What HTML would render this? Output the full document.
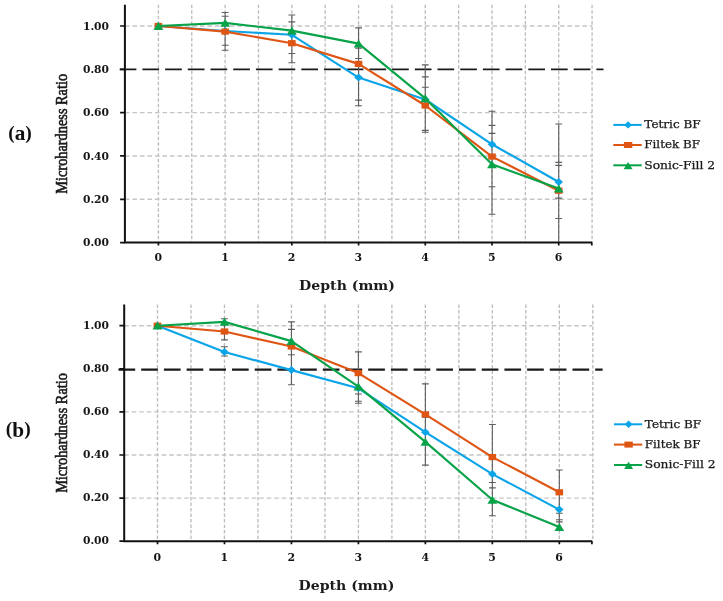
<!DOCTYPE html>
<html lang="en"><head><meta charset="utf-8"><title>Microhardness ratio vs depth</title>
<style>
html,body{margin:0;padding:0;background:#fff;}
body{width:723px;height:601px;overflow:hidden;}
svg{display:block;will-change:transform;}
.tk{font-family:"DejaVu Serif","Liberation Serif",serif;font-weight:bold;font-size:10.8px;fill:#151515;}
.ty{font-size:10.2px;}
.ti{font-family:"DejaVu Serif","Liberation Serif",serif;font-weight:bold;font-size:12.3px;fill:#1c1c1c;}
.lg{font-family:"DejaVu Serif","Liberation Serif",serif;font-size:10.2px;fill:#1a1a1a;stroke:#1a1a1a;stroke-width:0.25px;}
.yl{font-family:"Liberation Serif",serif;font-size:16.2px;fill:#1a1a1a;stroke:#1a1a1a;stroke-width:0.6px;}
.pl{font-family:"Liberation Serif",serif;font-weight:bold;font-size:19.5px;fill:#111;}
</style></head><body>
<svg width="723" height="601" viewBox="0 0 723 601">
<rect width="723" height="601" fill="#fff"/>
<g id="chart-a">
<path d="M158.4 4.8V242.6M191.76 4.8V242.6M225.12 4.8V242.6M258.48 4.8V242.6M291.84 4.8V242.6M325.2 4.8V242.6M358.56 4.8V242.6M391.92 4.8V242.6M425.28 4.8V242.6M458.64 4.8V242.6M492 4.8V242.6M525.36 4.8V242.6M558.72 4.8V242.6M592.08 4.8V242.6" stroke="#bdbdbd" stroke-width="1.35" stroke-dasharray="3.5 2" fill="none"/>
<path d="M124.9 199.28H592.2M124.9 155.96H592.2M124.9 112.64H592.2M124.9 26H592.2" stroke="#c5c5c5" stroke-width="1.35" stroke-dasharray="4.6 2.9" fill="none"/>
<path d="M119.7 69.4H603.5" stroke="#1a1a1a" stroke-width="1.8" stroke-dasharray="16.7 6" fill="none"/>
<path d="M225.12 12.5V50.3M221.72 12.5H228.52M221.72 16.2H228.52M221.72 45.3H228.52M221.72 50.3H228.52M291.84 15V62.8M288.44 15H295.24M288.44 21.9H295.24M288.44 53.5H295.24M288.44 62.8H295.24M358.56 27.9V105.8M355.16 27.9H361.96M355.16 48.1H361.96M355.16 58.5H361.96M355.16 100.1H361.96M355.16 105.8H361.96M425.28 64.9V132.2M421.88 64.9H428.68M421.88 76.9H428.68M421.88 87.3H428.68M421.88 130.4H428.68M421.88 132.2H428.68M492 111.3V214.3M488.6 111.3H495.4M488.6 125.4H495.4M488.6 133.4H495.4M488.6 186.7H495.4M488.6 214.3H495.4M558.72 124V241.7M555.32 124H562.12M555.32 162.4H562.12M555.32 165.4H562.12M555.32 198.1H562.12M555.32 218.5H562.12" stroke="#5e5e5e" stroke-width="1.1" fill="none"/>
<path d="M124.9 4.8V242.6H592.2" stroke="#111" stroke-width="2" fill="none" stroke-linejoin="miter"/>
<path d="M120.1 242.6H124.9M120.1 199.28H124.9M120.1 155.96H124.9M120.1 112.64H124.9M120.1 69.32H124.9M120.1 26H124.9M158.4 242.6V245.6M225.12 242.6V245.6M291.84 242.6V245.6M358.56 242.6V245.6M425.28 242.6V245.6M492 242.6V245.6M558.72 242.6V245.6M591.8 242.6V245.6" stroke="#111" stroke-width="1.7" fill="none"/>
<polyline points="158.4,26 225.12,31 291.84,34.8 358.56,77.6 425.28,99.5 492,144.3 558.72,182" stroke="#0ba4e8" stroke-width="2.15" fill="none" stroke-linejoin="round"/>
<path d="M154.1 26L158.4 22L162.7 26L158.4 30Z" fill="#0ba4e8"/>
<path d="M220.82 31L225.12 27L229.42 31L225.12 35Z" fill="#0ba4e8"/>
<path d="M287.54 34.8L291.84 30.8L296.14 34.8L291.84 38.8Z" fill="#0ba4e8"/>
<path d="M354.26 77.6L358.56 73.6L362.86 77.6L358.56 81.6Z" fill="#0ba4e8"/>
<path d="M420.98 99.5L425.28 95.5L429.58 99.5L425.28 103.5Z" fill="#0ba4e8"/>
<path d="M487.7 144.3L492 140.3L496.3 144.3L492 148.3Z" fill="#0ba4e8"/>
<path d="M554.42 182L558.72 178L563.02 182L558.72 186Z" fill="#0ba4e8"/>
<polyline points="158.4,26 225.12,31.6 291.84,43.2 358.56,63.9 425.28,105.5 492,156.6 558.72,190.7" stroke="#df5514" stroke-width="2.15" fill="none" stroke-linejoin="round"/>
<rect x="154.6" y="22.9" width="7.6" height="6.2" fill="#df5514"/>
<rect x="221.32" y="28.5" width="7.6" height="6.2" fill="#df5514"/>
<rect x="288.04" y="40.1" width="7.6" height="6.2" fill="#df5514"/>
<rect x="354.76" y="60.8" width="7.6" height="6.2" fill="#df5514"/>
<rect x="421.48" y="102.4" width="7.6" height="6.2" fill="#df5514"/>
<rect x="488.2" y="153.5" width="7.6" height="6.2" fill="#df5514"/>
<rect x="554.92" y="187.6" width="7.6" height="6.2" fill="#df5514"/>
<polyline points="158.4,26 225.12,22.9 291.84,30.6 358.56,43.6 425.28,98.4 492,164.3 558.72,188.6" stroke="#08a348" stroke-width="2.15" fill="none" stroke-linejoin="round"/>
<path d="M158.4 21.9L163.3 29.9L153.5 29.9Z" fill="#08a348"/>
<path d="M225.12 18.8L230.02 26.8L220.22 26.8Z" fill="#08a348"/>
<path d="M291.84 26.5L296.74 34.5L286.94 34.5Z" fill="#08a348"/>
<path d="M358.56 39.5L363.46 47.5L353.66 47.5Z" fill="#08a348"/>
<path d="M425.28 94.3L430.18 102.3L420.38 102.3Z" fill="#08a348"/>
<path d="M492 160.2L496.9 168.2L487.1 168.2Z" fill="#08a348"/>
<path d="M558.72 184.5L563.62 192.5L553.82 192.5Z" fill="#08a348"/>
<text class="tk ty" transform="translate(109.0 246.25) scale(1.05 1)" text-anchor="end">0.00</text>
<text class="tk ty" transform="translate(109.0 202.93) scale(1.05 1)" text-anchor="end">0.20</text>
<text class="tk ty" transform="translate(109.0 159.61) scale(1.05 1)" text-anchor="end">0.40</text>
<text class="tk ty" transform="translate(109.0 116.29) scale(1.05 1)" text-anchor="end">0.60</text>
<text class="tk ty" transform="translate(109.0 72.97) scale(1.05 1)" text-anchor="end">0.80</text>
<text class="tk ty" transform="translate(109.0 29.65) scale(1.05 1)" text-anchor="end">1.00</text>
<text class="tk" transform="translate(158.2 261.4) scale(1.01 1)" text-anchor="middle">0</text>
<text class="tk" transform="translate(224.92 261.4) scale(1.01 1)" text-anchor="middle">1</text>
<text class="tk" transform="translate(291.64 261.4) scale(1.01 1)" text-anchor="middle">2</text>
<text class="tk" transform="translate(358.36 261.4) scale(1.01 1)" text-anchor="middle">3</text>
<text class="tk" transform="translate(425.08 261.4) scale(1.01 1)" text-anchor="middle">4</text>
<text class="tk" transform="translate(491.8 261.4) scale(1.01 1)" text-anchor="middle">5</text>
<text class="tk" transform="translate(558.52 261.4) scale(1.01 1)" text-anchor="middle">6</text>
<text class="ti" transform="translate(347 290.3) scale(1.147 1)" text-anchor="middle">Depth (mm)</text>
<text class="yl" transform="translate(67.1 133.8) rotate(-90) scale(0.885 1)" text-anchor="middle">Microhardness Ratio</text>
<text class="pl" x="8.2" y="138.9">(<tspan dy="1.5" font-size="21.3">a</tspan><tspan dy="-1.5">)</tspan></text>
<path d="M613.3 124.9H641.7" stroke="#0ba4e8" stroke-width="2" fill="none"/>
<path d="M624.2 124.9L628.1 121.2L632 124.9L628.1 128.6Z" fill="#0ba4e8"/>
<text class="lg" x="644.3" y="128.1" textLength="56.4" lengthAdjust="spacingAndGlyphs">Tetric BF</text>
<path d="M613.3 145H641.7" stroke="#df5514" stroke-width="2" fill="none"/>
<rect x="623.9" y="142" width="8.4" height="6" fill="#df5514"/>
<text class="lg" x="644.3" y="148.2" textLength="55.6" lengthAdjust="spacingAndGlyphs">Filtek BF</text>
<path d="M613.3 165.3H641.7" stroke="#08a348" stroke-width="2" fill="none"/>
<path d="M628.1 162L632.6 169.2L623.6 169.2Z" fill="#08a348"/>
<text class="lg" x="644.3" y="168.5" textLength="70.8" lengthAdjust="spacingAndGlyphs">Sonic-Fill 2</text>
</g>
<g id="chart-b">
<path d="M157.5 304.4V541.2M190.99 304.4V541.2M224.47 304.4V541.2M257.95 304.4V541.2M291.44 304.4V541.2M324.93 304.4V541.2M358.41 304.4V541.2M391.89 304.4V541.2M425.38 304.4V541.2M458.87 304.4V541.2M492.35 304.4V541.2M525.84 304.4V541.2M559.32 304.4V541.2M592.81 304.4V541.2" stroke="#bdbdbd" stroke-width="1.35" stroke-dasharray="3.5 2" fill="none"/>
<path d="M124.2 498.1H592.3M124.2 455H592.3M124.2 411.9H592.3M124.2 325.7H592.3" stroke="#c5c5c5" stroke-width="1.35" stroke-dasharray="4.6 2.9" fill="none"/>
<path d="M118.5 369.6H602.6" stroke="#1a1a1a" stroke-width="2.2" stroke-dasharray="16.7 6" fill="none"/>
<path d="M224.47 318.7V339.9M221.07 318.7H227.87M221.07 339.9H227.87M224.47 346.8V356M221.07 346.8H227.87M221.07 356H227.87M291.44 321.9V384.7M288.04 321.9H294.84M288.04 329.4H294.84M288.04 354.8H294.84M288.04 384.7H294.84M358.41 351.9V403.3M355.01 351.9H361.81M355.01 394H361.81M355.01 401.2H361.81M355.01 403.3H361.81M425.38 383.9V465.1M421.98 383.9H428.78M421.98 417.2H428.78M421.98 465.1H428.78M492.35 424.5V515.8M488.95 424.5H495.75M488.95 482.5H495.75M488.95 487.9H495.75M488.95 515.8H495.75M559.32 470V529M555.92 470H562.72M555.92 513.2H562.72M555.92 519.8H562.72M555.92 521.9H562.72" stroke="#5e5e5e" stroke-width="1.1" fill="none"/>
<path d="M124.2 304.4V541.2H592.3" stroke="#111" stroke-width="2" fill="none" stroke-linejoin="miter"/>
<path d="M119.4 541.2H124.2M119.4 498.1H124.2M119.4 455H124.2M119.4 411.9H124.2M119.4 368.8H124.2M119.4 325.7H124.2M157.5 541.2V544.2M224.47 541.2V544.2M291.44 541.2V544.2M358.41 541.2V544.2M425.38 541.2V544.2M492.35 541.2V544.2M559.32 541.2V544.2M591.9 541.2V544.2" stroke="#111" stroke-width="1.7" fill="none"/>
<polyline points="157.5,325.7 224.47,352 291.44,370.1 358.41,388.3 425.38,432.2 492.35,474.1 559.32,509.6" stroke="#0ba4e8" stroke-width="2.15" fill="none" stroke-linejoin="round"/>
<path d="M153.2 325.7L157.5 321.7L161.8 325.7L157.5 329.7Z" fill="#0ba4e8"/>
<path d="M220.17 352L224.47 348L228.77 352L224.47 356Z" fill="#0ba4e8"/>
<path d="M287.14 370.1L291.44 366.1L295.74 370.1L291.44 374.1Z" fill="#0ba4e8"/>
<path d="M354.11 388.3L358.41 384.3L362.71 388.3L358.41 392.3Z" fill="#0ba4e8"/>
<path d="M421.08 432.2L425.38 428.2L429.68 432.2L425.38 436.2Z" fill="#0ba4e8"/>
<path d="M488.05 474.1L492.35 470.1L496.65 474.1L492.35 478.1Z" fill="#0ba4e8"/>
<path d="M555.02 509.6L559.32 505.6L563.62 509.6L559.32 513.6Z" fill="#0ba4e8"/>
<polyline points="157.5,325.7 224.47,331.5 291.44,346.5 358.41,373.1 425.38,414.4 492.35,457.1 559.32,492.3" stroke="#df5514" stroke-width="2.15" fill="none" stroke-linejoin="round"/>
<rect x="153.7" y="322.6" width="7.6" height="6.2" fill="#df5514"/>
<rect x="220.67" y="328.4" width="7.6" height="6.2" fill="#df5514"/>
<rect x="287.64" y="343.4" width="7.6" height="6.2" fill="#df5514"/>
<rect x="354.61" y="370" width="7.6" height="6.2" fill="#df5514"/>
<rect x="421.58" y="411.3" width="7.6" height="6.2" fill="#df5514"/>
<rect x="488.55" y="454" width="7.6" height="6.2" fill="#df5514"/>
<rect x="555.52" y="489.2" width="7.6" height="6.2" fill="#df5514"/>
<polyline points="157.5,325.7 224.47,321.9 291.44,341.1 358.41,386.6 425.38,441.9 492.35,499.8 559.32,527" stroke="#08a348" stroke-width="2.15" fill="none" stroke-linejoin="round"/>
<path d="M157.5 321.6L162.4 329.6L152.6 329.6Z" fill="#08a348"/>
<path d="M224.47 317.8L229.37 325.8L219.57 325.8Z" fill="#08a348"/>
<path d="M291.44 337L296.34 345L286.54 345Z" fill="#08a348"/>
<path d="M358.41 382.5L363.31 390.5L353.51 390.5Z" fill="#08a348"/>
<path d="M425.38 437.8L430.28 445.8L420.48 445.8Z" fill="#08a348"/>
<path d="M492.35 495.7L497.25 503.7L487.45 503.7Z" fill="#08a348"/>
<path d="M559.32 522.9L564.22 530.9L554.42 530.9Z" fill="#08a348"/>
<text class="tk ty" transform="translate(109.0 544.45) scale(1.05 1)" text-anchor="end">0.00</text>
<text class="tk ty" transform="translate(109.0 501.35) scale(1.05 1)" text-anchor="end">0.20</text>
<text class="tk ty" transform="translate(109.0 458.25) scale(1.05 1)" text-anchor="end">0.40</text>
<text class="tk ty" transform="translate(109.0 415.15) scale(1.05 1)" text-anchor="end">0.60</text>
<text class="tk ty" transform="translate(109.0 372.05) scale(1.05 1)" text-anchor="end">0.80</text>
<text class="tk ty" transform="translate(109.0 328.95) scale(1.05 1)" text-anchor="end">1.00</text>
<text class="tk" transform="translate(157.3 561) scale(1.01 1)" text-anchor="middle">0</text>
<text class="tk" transform="translate(224.27 561) scale(1.01 1)" text-anchor="middle">1</text>
<text class="tk" transform="translate(291.24 561) scale(1.01 1)" text-anchor="middle">2</text>
<text class="tk" transform="translate(358.21 561) scale(1.01 1)" text-anchor="middle">3</text>
<text class="tk" transform="translate(425.18 561) scale(1.01 1)" text-anchor="middle">4</text>
<text class="tk" transform="translate(492.15 561) scale(1.01 1)" text-anchor="middle">5</text>
<text class="tk" transform="translate(559.12 561) scale(1.01 1)" text-anchor="middle">6</text>
<text class="ti" transform="translate(346.4 589.5) scale(1.147 1)" text-anchor="middle">Depth (mm)</text>
<text class="yl" transform="translate(66.5 433) rotate(-90) scale(0.885 1)" text-anchor="middle">Microhardness Ratio</text>
<text class="pl" x="5.8" y="435.1">(<tspan dy="1.5" font-size="21.3">b</tspan><tspan dy="-1.5">)</tspan></text>
<path d="M614 424.3H642.2" stroke="#0ba4e8" stroke-width="2" fill="none"/>
<path d="M624.7 424.3L628.6 420.6L632.5 424.3L628.6 428Z" fill="#0ba4e8"/>
<text class="lg" x="644.8" y="427.5" textLength="56.4" lengthAdjust="spacingAndGlyphs">Tetric BF</text>
<path d="M614 444.6H642.2" stroke="#df5514" stroke-width="2" fill="none"/>
<rect x="624.4" y="441.6" width="8.4" height="6" fill="#df5514"/>
<text class="lg" x="644.8" y="447.8" textLength="55.6" lengthAdjust="spacingAndGlyphs">Filtek BF</text>
<path d="M614 465H642.2" stroke="#08a348" stroke-width="2" fill="none"/>
<path d="M628.6 461.7L633.1 468.9L624.1 468.9Z" fill="#08a348"/>
<text class="lg" x="644.8" y="468.2" textLength="70.8" lengthAdjust="spacingAndGlyphs">Sonic-Fill 2</text>
</g>
</svg></body></html>
